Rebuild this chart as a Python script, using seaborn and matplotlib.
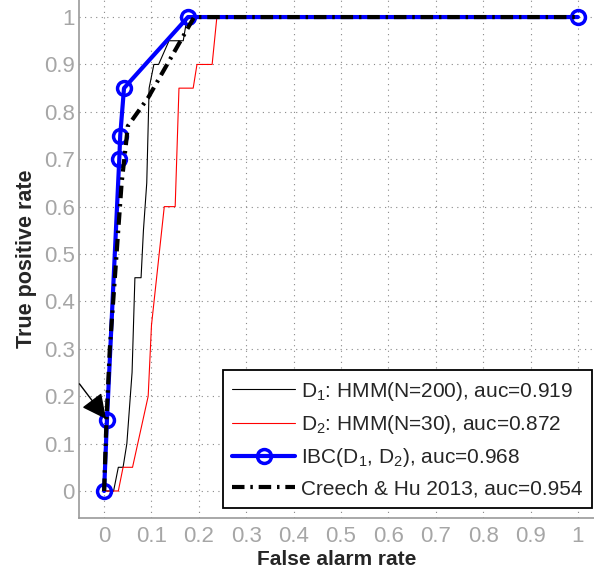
import pandas as pd
import matplotlib
matplotlib.use('Agg')
import matplotlib.pyplot as plt
import seaborn as sns

# ROC curves
d1_fpr = [0, 0.02, 0.03, 0.04, 0.048, 0.059, 0.065, 0.078, 0.083, 0.09, 0.095, 0.105, 0.115, 0.137, 0.167, 0.172, 0.175, 1.0]
d1_tpr = [0, 0, 0.05, 0.05, 0.10, 0.25, 0.45, 0.45, 0.55, 0.65, 0.85, 0.90, 0.90, 0.95, 0.95, 0.98, 1.0, 1.0]

d2_fpr = [0, 0.03, 0.04, 0.06, 0.093, 0.10, 0.127, 0.15, 0.158, 0.188, 0.196, 0.228, 0.238, 1.0]
d2_tpr = [0, 0, 0.05, 0.05, 0.20, 0.35, 0.60, 0.60, 0.85, 0.85, 0.90, 0.90, 1.0, 1.0]

ibc_fpr = [0, 0.006, 0.032, 0.034, 0.042, 0.177, 1.0]
ibc_tpr = [0, 0.15, 0.70, 0.75, 0.85, 1.0, 1.0]

creech_fpr = [0, 0.005, 0.012, 0.037, 0.047, 0.05, 0.093, 0.19, 1.0]
creech_tpr = [0, 0.15, 0.30, 0.65, 0.74, 0.77, 0.83, 1.0, 1.0]

labels = ['D$_1$: HMM(N=200), auc=0.919',
          'D$_2$: HMM(N=30), auc=0.872',
          'IBC(D$_1$, D$_2$), auc=0.968',
          'Creech & Hu 2013, auc=0.954']

xlabel = 'False alarm rate'
ylabel = 'True positive rate'
ticks = [0, 0.1, 0.2, 0.3, 0.4, 0.5, 0.6, 0.7, 0.8, 0.9, 1]
tick_labels = ['0', '0.1', '0.2', '0.3', '0.4', '0.5', '0.6', '0.7', '0.8', '0.9', '1']

sns.set_style('white')
plt.rcParams['font.family'] = ['Liberation Sans', 'DejaVu Sans']
plt.rcParams['mathtext.fontset'] = 'custom'
plt.rcParams['mathtext.rm'] = 'Liberation Sans'
plt.rcParams['mathtext.it'] = 'Liberation Sans'

def to_df(fpr, tpr):
    return pd.DataFrame({'fpr': fpr, 'tpr': tpr})

fig = plt.figure(figsize=(5.94, 5.73), dpi=100)
ax = fig.add_axes([79 / 594, 55 / 573, 515 / 594, 518 / 573])

sns.lineplot(data=to_df(d1_fpr, d1_tpr), x='fpr', y='tpr', sort=False, estimator=None,
             color='black', linewidth=0.8, label=labels[0], ax=ax, zorder=3)
sns.lineplot(data=to_df(d2_fpr, d2_tpr), x='fpr', y='tpr', sort=False, estimator=None,
             color='red', linewidth=0.8, label=labels[1], ax=ax, zorder=3)
sns.lineplot(data=to_df(ibc_fpr, ibc_tpr), x='fpr', y='tpr', sort=False, estimator=None,
             color='blue', linewidth=3, marker='o', markersize=10, markerfacecolor='none',
             markeredgecolor='blue', markeredgewidth=2.5, label=labels[2], ax=ax, zorder=4)
sns.lineplot(data=to_df(creech_fpr, creech_tpr), x='fpr', y='tpr', sort=False, estimator=None,
             color='black', linewidth=3, linestyle=(0, (3, 1.4, 0.6, 1.4)),
             label=labels[3], ax=ax, zorder=5)

# arrow pointing at the IBC operating point
ax.annotate('', xy=(0.004, 0.152), xytext=(-0.052, 0.226),
            arrowprops=dict(arrowstyle='-|>', mutation_scale=38, color='black', lw=1,
                            shrinkA=0, shrinkB=0),
            zorder=6)

ax.set_xlim(-0.053, 1.034)
ax.set_ylim(-0.057, 1.036)
ax.set_xticks(ticks)
ax.set_xticklabels(tick_labels)
ax.set_yticks(ticks)
ax.set_yticklabels(tick_labels)
ax.set_xticks([t + 0.05 for t in ticks[:-1]], minor=True)
ax.set_yticks([t + 0.05 for t in ticks[:-1]], minor=True)

gray = '#999999'
ax.tick_params(which='both', direction='in', colors=gray, labelcolor='#a6a6a6',
               labelsize=16, top=False, right=False)
ax.tick_params(which='major', length=5, width=0.8)
ax.tick_params(which='minor', length=3, width=0.8)
ax.tick_params(axis='x', which='major', pad=6)
ax.tick_params(axis='y', which='major', pad=3)
for side in ['top', 'right']:
    ax.spines[side].set_visible(False)
for side in ['left', 'bottom']:
    ax.spines[side].set_color(gray)
    ax.spines[side].set_linewidth(1.2)

ax.grid(True, which='major', linestyle=(0, (1, 4)), color='#888888', linewidth=0.8)

ax.set_xlabel(xlabel, fontsize=15, fontweight='bold', labelpad=2)
ax.set_ylabel(ylabel, fontsize=15.5, fontweight='bold', labelpad=5)

leg = ax.legend(loc='lower right', bbox_to_anchor=(0.996, 0.019), fontsize=15,
                frameon=True, fancybox=False, framealpha=1, edgecolor='black',
                handlelength=3.0, handletextpad=0.3, labelspacing=0.5,
                borderpad=0.45, borderaxespad=0, numpoints=1)
leg.get_frame().set_linewidth(1.3)

plt.savefig('out.png', dpi=100)
